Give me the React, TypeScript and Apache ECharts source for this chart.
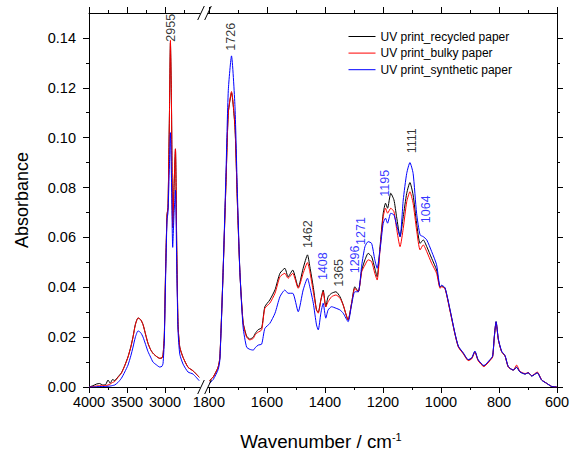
import React, { useEffect, useRef } from "react";
import * as echarts from "echarts";

// ---------- data ----------
const leftWavenumbers = [4000, 3950, 3900, 3860, 3820, 3780, 3750, 3720, 3690, 3662, 3620, 3574, 3530, 3487, 3450, 3421, 3390, 3355, 3320, 3289, 3255, 3224, 3190, 3158, 3110, 3070, 3040, 3026, 3010, 2995, 2974, 2961, 2942, 2929, 2916, 2899, 2882, 2863, 2846, 2829, 2806, 2763, 2697, 2632, 2550];
const leftRecycled = [0.0000, 0.0005, 0.0012, 0.0014, 0.0008, 0.0010, 0.0028, 0.0015, 0.0030, 0.0026, 0.0040, 0.0057, 0.0086, 0.0121, 0.0161, 0.0201, 0.0251, 0.0277, 0.0270, 0.0250, 0.0210, 0.0175, 0.0150, 0.0135, 0.0122, 0.0115, 0.0117, 0.0130, 0.0200, 0.0430, 0.0690, 0.0720, 0.1090, 0.1380, 0.1160, 0.0640, 0.0800, 0.0955, 0.0560, 0.0250, 0.0160, 0.0119, 0.0079, 0.0065, 0.0039];
const leftBulky = [0.0000, 0.0002, 0.0004, 0.0005, 0.0005, 0.0006, 0.0008, 0.0012, 0.0018, 0.0022, 0.0038, 0.0055, 0.0085, 0.0120, 0.0160, 0.0200, 0.0250, 0.0277, 0.0270, 0.0250, 0.0210, 0.0175, 0.0150, 0.0135, 0.0122, 0.0115, 0.0117, 0.0130, 0.0200, 0.0430, 0.0690, 0.0720, 0.1090, 0.1390, 0.1160, 0.0640, 0.0800, 0.0955, 0.0560, 0.0250, 0.0160, 0.0119, 0.0079, 0.0065, 0.0039];
const leftSynthetic = [0.0000, 0.0000, 0.0001, 0.0002, 0.0002, 0.0002, 0.0003, 0.0004, 0.0006, 0.0008, 0.0018, 0.0035, 0.0060, 0.0088, 0.0125, 0.0160, 0.0200, 0.0225, 0.0218, 0.0200, 0.0170, 0.0142, 0.0120, 0.0100, 0.0088, 0.0080, 0.0083, 0.0095, 0.0180, 0.0400, 0.0670, 0.0700, 0.0890, 0.1020, 0.0850, 0.0560, 0.0690, 0.0790, 0.0490, 0.0226, 0.0132, 0.0092, 0.0060, 0.0052, 0.0025];

const rightWavenumbers = [1798, 1785, 1768, 1762, 1751, 1741, 1733, 1722, 1710, 1702, 1693, 1682, 1670, 1659, 1647, 1640, 1630, 1618, 1607, 1590, 1572, 1555, 1538, 1527, 1511, 1492, 1475, 1460, 1452, 1440, 1429, 1423, 1414, 1406, 1397, 1389, 1377, 1362, 1348, 1337, 1320, 1308, 1297, 1285, 1273, 1262, 1251, 1239, 1228, 1220, 1210, 1199, 1191, 1184, 1173, 1162, 1153, 1141, 1130, 1118, 1107, 1096, 1084, 1072, 1061, 1049, 1032, 1015, 1003, 998, 986, 969, 952, 940, 923, 906, 894, 883, 872, 852, 831, 822, 816, 810, 802, 791, 779, 768, 751, 739, 728, 710, 699, 687, 668, 653, 636, 618, 601];
const rightRecycled = [0.0025, 0.004, 0.008, 0.012, 0.046, 0.082, 0.110, 0.118, 0.104, 0.075, 0.046, 0.026, 0.0205, 0.0192, 0.020, 0.0215, 0.023, 0.0237, 0.0322, 0.0349, 0.039, 0.0456, 0.0476, 0.0442, 0.0469, 0.040, 0.0476, 0.053, 0.0483, 0.040, 0.0309, 0.030, 0.0349, 0.0389, 0.0322, 0.0362, 0.0376, 0.0382, 0.0362, 0.0329, 0.0269, 0.0336, 0.0402, 0.0382, 0.0469, 0.051, 0.0536, 0.0523, 0.0476, 0.0442, 0.0563, 0.0697, 0.0737, 0.0717, 0.0777, 0.075, 0.0683, 0.0603, 0.0683, 0.0777, 0.082, 0.077, 0.0657, 0.0576, 0.059, 0.0563, 0.0516, 0.0469, 0.0400, 0.0405, 0.0396, 0.0309, 0.0215, 0.0162, 0.0135, 0.0108, 0.0115, 0.0142, 0.0108, 0.0084, 0.0108, 0.0122, 0.0202, 0.0262, 0.0189, 0.0142, 0.0124, 0.0081, 0.0068, 0.0079, 0.0061, 0.0052, 0.0057, 0.0044, 0.0057, 0.0028, 0.0015, 0.0002, 0.0];
const rightBulky = [0.0025, 0.004, 0.008, 0.012, 0.046, 0.082, 0.110, 0.1185, 0.1044, 0.075, 0.046, 0.0257, 0.020, 0.0189, 0.0195, 0.021, 0.022, 0.0229, 0.0316, 0.0336, 0.0376, 0.0442, 0.0456, 0.0436, 0.0456, 0.0396, 0.0456, 0.0499, 0.0463, 0.0382, 0.0309, 0.0296, 0.0349, 0.0382, 0.0322, 0.0342, 0.0362, 0.0369, 0.0356, 0.0329, 0.0269, 0.0336, 0.0396, 0.0382, 0.0463, 0.0489, 0.051, 0.0503, 0.0456, 0.0429, 0.055, 0.0683, 0.0717, 0.0697, 0.0717, 0.0703, 0.0636, 0.0563, 0.0636, 0.0743, 0.0783, 0.0737, 0.063, 0.055, 0.057, 0.0543, 0.0496, 0.0456, 0.0396, 0.0402, 0.0394, 0.0306, 0.0213, 0.016, 0.0133, 0.0106, 0.0113, 0.014, 0.0106, 0.0082, 0.0106, 0.012, 0.020, 0.026, 0.0188, 0.0142, 0.0124, 0.008, 0.0068, 0.0088, 0.0063, 0.0054, 0.0058, 0.0045, 0.006, 0.0029, 0.0015, 0.0002, 0.0];
const rightSynthetic = [0.0015, 0.003, 0.007, 0.011, 0.046, 0.086, 0.119, 0.1328, 0.1124, 0.079, 0.046, 0.024, 0.016, 0.0151, 0.0148, 0.0158, 0.0168, 0.0172, 0.0235, 0.0255, 0.0296, 0.0362, 0.0389, 0.0376, 0.0376, 0.0302, 0.0389, 0.0436, 0.0402, 0.0336, 0.0249, 0.0229, 0.0296, 0.0336, 0.0276, 0.0309, 0.0322, 0.0316, 0.0309, 0.0296, 0.0262, 0.033, 0.0382, 0.0382, 0.0489, 0.0563, 0.0583, 0.0576, 0.051, 0.0476, 0.055, 0.0657, 0.0677, 0.0657, 0.0697, 0.069, 0.065, 0.0603, 0.075, 0.0857, 0.090, 0.0857, 0.0697, 0.061, 0.0603, 0.059, 0.0543, 0.049, 0.0402, 0.0408, 0.0398, 0.0312, 0.0217, 0.0164, 0.0137, 0.011, 0.0117, 0.0144, 0.011, 0.0086, 0.011, 0.0124, 0.0204, 0.0262, 0.0192, 0.0144, 0.0126, 0.0082, 0.0068, 0.0079, 0.0061, 0.0052, 0.0057, 0.0044, 0.0057, 0.0028, 0.0015, 0.0002, 0.0];

const seriesNames = ["UV print_recycled paper", "UV print_bulky paper", "UV print_synthetic paper"];
const seriesColors = ["#000000", "#ff0000", "#0000ff"];

const leftMajorTicks = [3000, 3500, 4000];
const leftMinorTicks = [2750, 3250, 3750];
const rightMajorTicks = [600, 800, 1000, 1200, 1400, 1600, 1800];
const rightMinorTicks = [700, 900, 1100, 1300, 1500, 1700];
const yMajorTicks = [0, 0.02, 0.04, 0.06, 0.08, 0.1, 0.12, 0.14];
const yMinorTicks = [0.01, 0.03, 0.05, 0.07, 0.09, 0.11, 0.13];

const leftPeakLabels = ["2955"];
const leftPeakX = [2925];
const leftPeakY = [0.1385];
const leftPeakColors = ["#000000"];
const rightPeakLabels = ["1726", "1462", "1408", "1365", "1296", "1271", "1195", "1111", "1064"];
const rightPeakX = [1722, 1458, 1406, 1351, 1297, 1276, 1193, 1101, 1052];
const rightPeakY = [0.1349, 0.0557, 0.0429, 0.0402, 0.0456, 0.057, 0.0763, 0.0937, 0.0657];
const rightPeakColors = ["#000000", "#000000", "#0000ff", "#000000", "#0000ff", "#0000ff", "#0000ff", "#000000", "#0000ff"];

const FONT = "'Liberation Sans', Arial, sans-serif";

export default function App() {
  const ref = useRef<HTMLDivElement>(null);
  useEffect(() => {
    if (!ref.current) return;
    const chart = echarts.init(ref.current, undefined, { renderer: "svg" });
    const axisLine = { show: true, lineStyle: { color: "#000", width: 1 } };
    const noSplit = { show: false };
    const mkX = (grid: number, pos: string, min: number, max: number, ticks: number[], len: number, labels: boolean, line: boolean) => ({
      type: "value", gridIndex: grid, position: pos, min, max, inverse: true,
      axisLine: line ? axisLine : { show: false },
      splitLine: noSplit,
      axisTick: { show: true, inside: false, length: len, customValues: ticks, lineStyle: { color: "#000", width: 1 } },
      axisLabel: labels
        ? { show: true, customValues: ticks, margin: 7, color: "#000", fontSize: 14.5, fontFamily: FONT, formatter: (v: number) => String(v) }
        : { show: false },
    });
    const mkY = (grid: number, pos: string, ticks: number[], len: number, labels: boolean, line: boolean, extra: any = {}) => ({
      type: "value", gridIndex: grid, position: pos, min: 0, max: 0.15,
      axisLine: line ? axisLine : { show: false },
      splitLine: noSplit,
      axisTick: { show: true, inside: false, length: len, customValues: ticks, lineStyle: { color: "#000", width: 1 } },
      axisLabel: labels
        ? { show: true, customValues: ticks, margin: 13, color: "#000", fontSize: 14.5, fontFamily: FONT, formatter: (v: number) => v.toFixed(2) }
        : { show: false },
      ...extra,
    });

    const leftData = [leftRecycled, leftBulky, leftSynthetic];
    const rightData = [rightRecycled, rightBulky, rightSynthetic];
    const lineSeries: any[] = [];
    for (let i = 0; i < 3; i++) {
      lineSeries.push({
        type: "line", name: seriesNames[i], xAxisIndex: 0, yAxisIndex: 0,
        data: leftWavenumbers.map((w, k) => [w, leftData[i][k]]),
        symbol: "none", smooth: 0.2, lineStyle: { color: seriesColors[i], width: 1 }, itemStyle: { color: seriesColors[i] },
        z: 2 + i,
      });
      lineSeries.push({
        type: "line", name: seriesNames[i], xAxisIndex: 4, yAxisIndex: 2,
        data: rightWavenumbers.map((w, k) => [w, rightData[i][k]]),
        symbol: "none", smooth: 0.2, lineStyle: { color: seriesColors[i], width: 1 }, itemStyle: { color: seriesColors[i] },
        z: 2 + i,
      });
    }
    const labelStyle = { show: true, position: "inside", rotate: 90, align: "left", verticalAlign: "middle", fontSize: 12.5, fontFamily: FONT, formatter: (p: any) => p.name };
    const peakSeries = [
      {
        type: "scatter", xAxisIndex: 0, yAxisIndex: 0, symbolSize: 1, silent: true, itemStyle: { color: "transparent" }, label: labelStyle, z: 10,
        data: leftPeakLabels.map((t, k) => ({ name: t, value: [leftPeakX[k], leftPeakY[k]], label: { color: leftPeakColors[k] } })),
      },
      {
        type: "scatter", xAxisIndex: 4, yAxisIndex: 2, symbolSize: 1, silent: true, itemStyle: { color: "transparent" }, label: labelStyle, z: 10,
        data: rightPeakLabels.map((t, k) => ({ name: t, value: [rightPeakX[k], rightPeakY[k]], label: { color: rightPeakColors[k] } })),
      },
    ];

    const slash = (cx: number, cy: number) => ({
      type: "line", shape: { x1: cx - 3.3, y1: cy + 7, x2: cx + 3.3, y2: cy - 7 }, style: { stroke: "#000", lineWidth: 1 }, z: 100,
    });

    chart.setOption({
      animation: false,
      backgroundColor: "#fff",
      grid: [
        { left: 89, top: 13, width: 111, height: 374 },
        { left: 208, top: 13, width: 349, height: 374 },
      ],
      xAxis: [
        mkX(0, "bottom", 2540, 4000, leftMajorTicks, 6, true, true),
        mkX(0, "bottom", 2540, 4000, leftMinorTicks, 3, false, false),
        mkX(0, "top", 2540, 4000, leftMajorTicks, 6, false, true),
        mkX(0, "top", 2540, 4000, leftMinorTicks, 3, false, false),
        mkX(1, "bottom", 600, 1803, rightMajorTicks, 6, true, true),
        mkX(1, "bottom", 600, 1803, rightMinorTicks, 3, false, false),
        mkX(1, "top", 600, 1803, rightMajorTicks, 6, false, true),
        mkX(1, "top", 600, 1803, rightMinorTicks, 3, false, false),
      ],
      yAxis: [
        mkY(0, "left", yMajorTicks, 6, true, true, {
          name: "Absorbance", nameLocation: "middle", nameGap: 58,
          nameTextStyle: { fontSize: 18, color: "#000", fontFamily: FONT },
        }),
        mkY(0, "left", yMinorTicks, 3, false, false),
        mkY(1, "right", yMajorTicks, 6, false, true),
        mkY(1, "right", yMinorTicks, 3, false, false),
      ],
      legend: {
        data: seriesNames, orient: "vertical", left: 343, top: 25.5,
        itemWidth: 27, itemHeight: 12, itemGap: 4.6,
        itemStyle: { opacity: 0 },
        lineStyle: { width: 1 },
        textStyle: { fontSize: 12, color: "#000", fontFamily: FONT },
      },
      graphic: [
        slash(201, 13), slash(208, 13), slash(201, 387), slash(208, 387),
        {
          type: "text", x: 321, y: 441, z: 100,
          style: {
            text: "{a|Wavenumber / cm}{b|-1}", align: "center", verticalAlign: "middle",
            rich: {
              a: { fontSize: 18.8, fontFamily: FONT, fill: "#000" },
              b: { fontSize: 11, fontFamily: FONT, fill: "#000", verticalAlign: "top" },
            },
          },
        },
      ],
      series: [...lineSeries, ...peakSeries],
    });
    return () => chart.dispose();
  }, []);
  return <div ref={ref} style={{ position: "fixed", left: 0, top: 0, width: 580, height: 452 }} />;
}
